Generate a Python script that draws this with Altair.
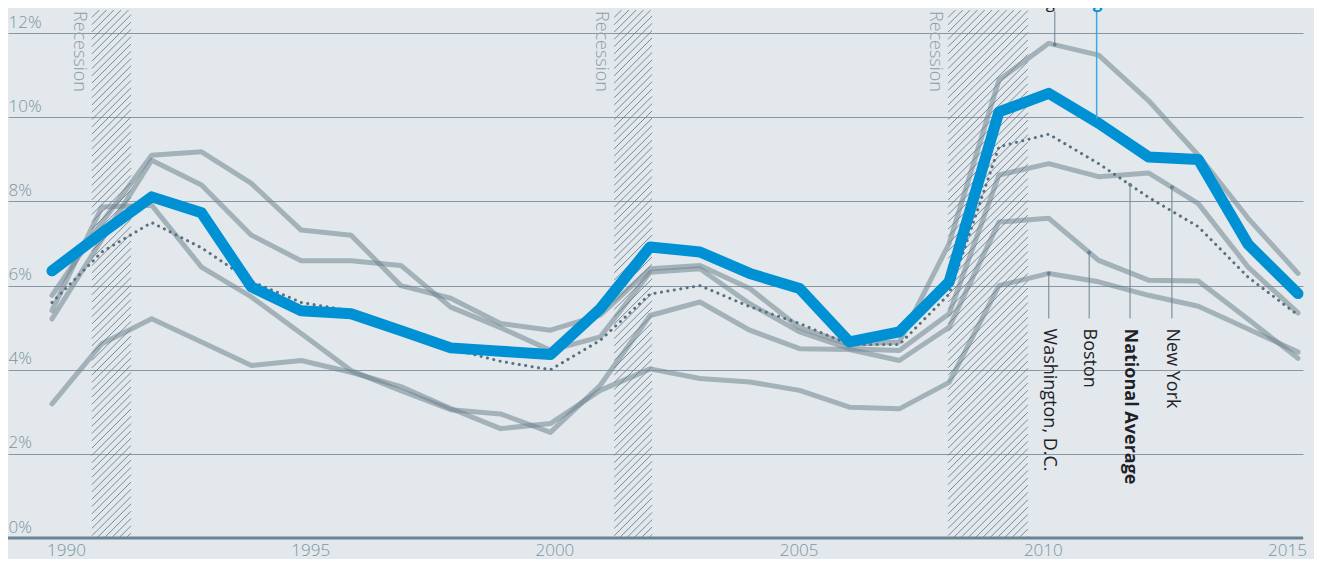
import altair as alt
import pandas as pd

# ---------------- data ----------------
years = list(range(1990, 2016))
chicago = [6.35, 7.25, 8.11, 7.73, 5.97, 5.40, 5.33, 4.93, 4.52, 4.44, 4.36, 5.45, 6.92,
           6.80, 6.29, 5.93, 4.66, 4.90, 6.09, 10.13, 10.57, 9.86, 9.06, 9.00, 6.98, 5.81]
national = [5.6, 6.8, 7.5, 6.9, 6.1, 5.6, 5.4, 4.9, 4.5, 4.2, 4.0, 4.7, 5.8,
            6.0, 5.5, 5.1, 4.6, 4.6, 5.8, 9.3, 9.6, 8.9, 8.1, 7.4, 6.2, 5.3]
los_angeles = [5.77, 7.5, 9.1, 9.18, 8.43, 7.32, 7.2, 6.0, 5.7, 5.1, 4.94, 5.3, 6.4,
               6.48, 5.93, 5.0, 4.6, 4.66, 7.0, 10.89, 11.76, 11.48, 10.4, 9.1, 7.6, 6.29]
new_york = [5.21, 7.1, 8.98, 8.39, 7.2, 6.59, 6.59, 6.48, 5.49, 5.0, 4.46, 4.78, 6.32,
            6.4, 5.57, 4.9, 4.5, 4.46, 5.33, 8.63, 8.9, 8.59, 8.68, 7.95, 6.44, 5.35]
boston = [5.41, 7.87, 7.91, 6.44, 5.73, 4.86, 3.98, 3.5, 3.05, 2.95, 2.51, 3.63, 5.29,
          5.61, 4.94, 4.5, 4.48, 4.22, 5.01, 7.51, 7.6, 6.6, 6.13, 6.11, 5.2, 4.27]
washington = [3.19, 4.62, 5.21, 4.66, 4.1, 4.22, 3.94, 3.6, 3.08, 2.6, 2.72, 3.51, 4.02,
              3.79, 3.71, 3.51, 3.11, 3.07, 3.7, 6.0, 6.29, 6.09, 5.77, 5.51, 4.97, 4.42]

rec_start = [1990.80, 2001.28, 2007.98]
rec_end = [1991.585, 2002.04, 2009.58]
rec_top = 12.55

tick_years = [1990, 1995, 2000, 2005, 2010, 2015]
y_ticks = [0, 2, 4, 6, 8, 10, 12]

lead_names = ["Washington, D.C.", "Boston", "National Average", "New York"]
lead_x = [2010.0, 2010.81, 2011.63, 2012.47]
lead_top = [6.29, 6.79, 8.40, 8.34]
lead_bottom = 5.22
label_y = 4.98

top_names = ["Los Angeles", "Chicago"]
top_x = [2010.12, 2010.96]
top_anchor = [11.73, 9.97]
top_lead_end = 12.52
top_text_y = 12.59

# ---------------- geometry / style ----------------
W, H = 1295, 530
X_DOM = [1989.117, 2015.1003]
LABEL_DOM = [1988.8125, 2015.3276]
Y_DOM = [0, 12.6]
SX = W / (X_DOM[1] - X_DOM[0])
SY = H / (Y_DOM[1] - Y_DOM[0])

BG = "#e3e8ec"
GRID = "#8798a4"
AXC = "#7c94a2"
GRAY = "#70848f"
BLUE = "#0091d5"
DARK = "#1e2226"
FONT = "Open Sans"

XS = alt.Scale(domain=X_DOM, nice=False, zero=False)
YS = alt.Scale(domain=Y_DOM, nice=False, zero=False)
Y_AX = alt.Axis(values=y_ticks, labelExpr="datum.value + '%'", orient="left",
                domain=False, ticks=False, tickSize=0, labelAlign="left",
                labelBaseline="alphabetic", labelPadding=0, labelOffset=-6,
                labelFontSize=17, labelColor=AXC, labelFont=FONT, labelFontWeight=300,
                grid=True, gridColor=GRID, gridWidth=1, title=None)


def X(f):
    return alt.X(f, type="quantitative", scale=XS, axis=None)


def Y(f):
    return alt.Y(f, type="quantitative", scale=YS, axis=Y_AX)


# ---------------- tables ----------------
gray_rows = []
for name, vals in zip(["Los Angeles", "New York", "Boston", "Washington, D.C."],
                      [los_angeles, new_york, boston, washington]):
    for yr, v in zip(years, vals):
        gray_rows.append({"year": yr, "v": v, "city": name})
gray_df = pd.DataFrame(gray_rows)
nat_df = pd.DataFrame({"year": years, "v": national})
chi_df = pd.DataFrame({"year": years, "v": chicago})

# hatch lines inside each recession band (45 degree in pixel space)
hatch_rows = []
step = 7.3
for s, e in zip(rec_start, rec_end):
    wpx = (e - s) * SX
    hpx = rec_top * SY
    c = -hpx
    while c < wpx:
        h0 = max(0.0, -c)
        h1 = min(hpx, wpx - c)
        if h1 > h0:
            hatch_rows.append({"x": s + (c + h0) / SX, "y": h0 / SY,
                               "x2": s + (c + h1) / SX, "y2": h1 / SY})
        c += step
hatch_df = pd.DataFrame(hatch_rows)

rec_df = pd.DataFrame({"s": rec_start, "e": rec_end, "label": ["Recession"] * 3})

lead_df = pd.DataFrame({"name": lead_names, "x": lead_x, "top": lead_top,
                        "bot": [lead_bottom] * 4, "ty": [label_y] * 4})
top_df = pd.DataFrame({"name": top_names, "x": top_x, "a": top_anchor,
                       "t": [top_lead_end] * 2, "ty": [top_text_y] * 2})
base_df = pd.DataFrame({"v": [0]})
tick_df = pd.DataFrame({"year": tick_years})

# ---------------- layers ----------------
hatch = alt.Chart(hatch_df).mark_rule(color="#6a818f", strokeWidth=0.9).encode(
    x=X("x"), x2="x2", y=Y("y"), y2="y2")

rec_text = alt.Chart(rec_df).transform_calculate(
    tx="datum.s - 13 / %f" % SX, ty="12.53").mark_text(
    angle=90, align="left", baseline="middle", fontSize=18, font=FONT,
    fontWeight=300, color="#8b9eaa").encode(x=X("tx"), y=Y("ty"), text="label:N")

grays = alt.Chart(gray_df).mark_line(
    color=GRAY, opacity=0.55, strokeWidth=5, strokeCap="round", strokeJoin="round"
).encode(x=X("year"), y=Y("v"), detail="city:N")

nat = alt.Chart(nat_df).mark_line(
    color="#587080", strokeWidth=3, strokeDash=[0.1, 6.4], strokeCap="round"
).encode(x=X("year"), y=Y("v"))

chi = alt.Chart(chi_df).mark_line(
    color=BLUE, strokeWidth=11, strokeCap="round", strokeJoin="round"
).encode(x=X("year"), y=Y("v"))

baseline = alt.Chart(base_df).mark_rule(color="#6a8493", strokeWidth=3).encode(y=Y("v"))

leaders = alt.Chart(lead_df).mark_rule(color="#6a818f", strokeWidth=1).encode(
    x=X("x"), y=Y("top"), y2="bot")
lead_dots = alt.Chart(lead_df).mark_circle(color="#6a818f", size=14, opacity=1).encode(
    x=X("x"), y=Y("top"))

lead_text = alt.Chart(lead_df).transform_filter(
    "datum.name != 'National Average'").mark_text(
    angle=90, align="left", baseline="middle", fontSize=18, font=FONT, color=DARK
).encode(x=X("x"), y=Y("ty"), text="name:N")
lead_bold = alt.Chart(lead_df).transform_filter(
    "datum.name == 'National Average'").mark_text(
    angle=90, align="left", baseline="middle", fontSize=18, font=FONT,
    fontWeight="bold", color=DARK
).encode(x=X("x"), y=Y("ty"), text="name:N")

top_la = alt.Chart(top_df).transform_filter("datum.name == 'Los Angeles'")
la_lead = top_la.mark_rule(color="#6a818f", strokeWidth=1).encode(
    x=X("x"), y=Y("a"), y2="t")
la_dot = top_la.mark_circle(color="#6a818f", size=14, opacity=1).encode(
    x=X("x"), y=Y("a"))
la_text = top_la.mark_text(align="center", baseline="alphabetic", dx=-15,
                           fontSize=17, font=FONT, color=DARK).encode(
    x=X("x"), y=Y("ty"), text="name:N")

top_chi = alt.Chart(top_df).transform_filter("datum.name == 'Chicago'")
chi_lead = top_chi.mark_rule(color="#3fa9e0", strokeWidth=1.5).encode(
    x=X("x"), y=Y("a"), y2="t")
chi_text = top_chi.mark_text(align="center", baseline="alphabetic", dx=-17,
                             fontSize=17, font=FONT, fontWeight="bold",
                             color=BLUE).encode(x=X("x"), y=Y("ty"), text="name:N")

year_axis = alt.Chart(tick_df).mark_point(opacity=0).encode(
    x=alt.X("year:Q", scale=alt.Scale(domain=LABEL_DOM, nice=False, zero=False),
            axis=alt.Axis(values=tick_years, format="d", orient="bottom", domain=False,
                          ticks=False, tickSize=0, grid=False, labelPadding=17,
                          labelBaseline="alphabetic",
                          labelFontSize=17, labelColor=AXC, labelFont=FONT,
                          labelFontWeight=300, labelFlush=False, labelOverlap=False,
                          title=None)))

chart = alt.layer(
    hatch, rec_text, grays, nat, chi, baseline, leaders, lead_dots,
    lead_text, lead_bold, la_lead, la_dot, la_text, chi_lead, chi_text, year_axis
).resolve_scale(x="independent").properties(
    width=W, height=H, background=BG,
    autosize=alt.AutoSizeParams(type="none"),
    padding={"left": 0, "top": 0, "right": 11, "bottom": 21},
).configure_view(stroke=None)

chart.save("out.html", embed_options={"renderer": "svg", "actions": False})
